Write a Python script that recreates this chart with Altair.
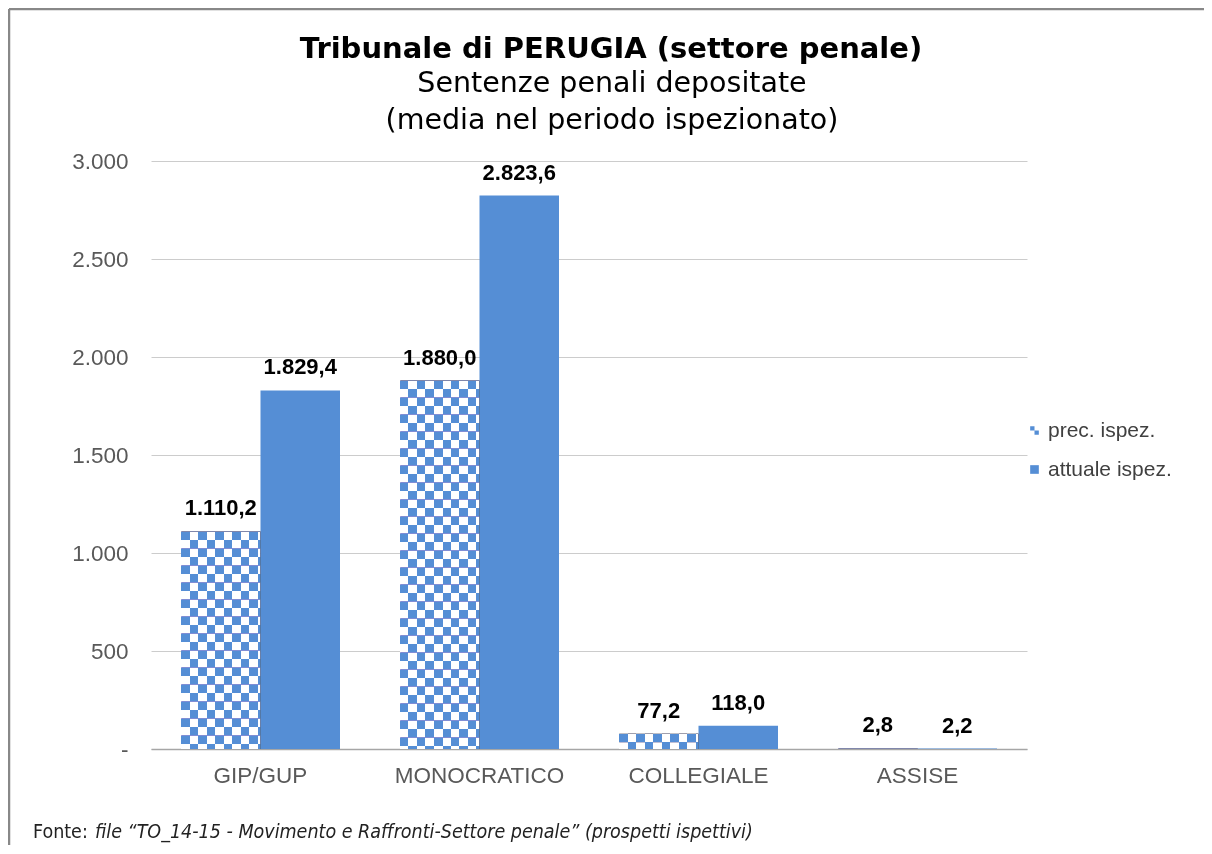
import altair as alt
import pandas as pd

# ---- data ----
categories = ["GIP/GUP", "MONOCRATICO", "COLLEGIALE", "ASSISE"]
series = ["prec. ispez.", "attuale ispez."]
prec_values = [1110.2, 1880.0, 77.2, 2.8]
attuale_values = [1829.4, 2823.6, 118.0, 2.2]
y_ticks = [0, 500, 1000, 1500, 2000, 2500, 3000]

title_text = "Tribunale di PERUGIA (settore penale)"
subtitle_lines = ["Sentenze penali depositate", "(media nel periodo ispezionato)"]
footer_plain = "Fonte:"
footer_italic = "file \u201cTO_14-15 - Movimento e Raffronti-Settore penale\u201d (prospetti ispettivi)"

rows = []
for c, p, a in zip(categories, prec_values, attuale_values):
    rows.append({"cat": c, "serie": series[0], "value": p})
    rows.append({"cat": c, "serie": series[1], "value": a})
df = pd.DataFrame(rows)

# ---- style ----
BLUE = "#558ED5"
W, H = 876, 588
P_IN = 60 / 219
BAR_W = 79.5
CELL = 8.5

# vertical stripes (white / black columns) used as base of checker pattern
stops = []
k = 0
while k * CELL < BAR_W:
    a = k * CELL / BAR_W
    b = min(1.0, (k + 1) * CELL / BAR_W)
    col = "#ffffff" if k % 2 == 0 else "#000000"
    stops.append({"offset": a, "color": col})
    stops.append({"offset": b, "color": col})
    k += 1
stripe_grad = {"gradient": "linear", "x1": 0, "x2": 1, "y1": 0, "y2": 0, "stops": stops}

checker_path = "M-1,-1H0V0H-1Z M0,0H1V1H0Z"

x_enc = alt.X(
    "cat:N", sort=categories,
    scale=alt.Scale(paddingInner=P_IN, paddingOuter=P_IN / 2),
    axis=alt.Axis(title=None, labelAngle=0, ticks=False, domain=True,
                  domainColor="#a6a6a6", domainWidth=1.5, grid=False,
                  labelFont="Liberation Sans", labelFontSize=22.5,
                  labelColor="#595959", labelPadding=15),
)
xo_enc = alt.XOffset("serie:N", sort=series,
                     scale=alt.Scale(paddingInner=0, paddingOuter=0))
y_enc = alt.Y(
    "value:Q", scale=alt.Scale(domain=[0, 3000], nice=False),
    axis=alt.Axis(title=None, values=y_ticks, domain=False, ticks=False,
                  tickSize=0, labelPadding=23, grid=True, gridColor="#cccccc",
                  gridWidth=1, labelFont="Liberation Sans", labelFontSize=22.5,
                  labelColor="#595959",
                  labelExpr="datum.value == 0 ? '-' : replace(format(datum.value, ','), ',', '.')"),
)

base = alt.Chart(df).encode(x=x_enc, xOffset=xo_enc, y=y_enc)

is_prec = alt.datum.serie == series[0]
is_att = alt.datum.serie == series[1]

att_bars = base.transform_filter(is_att).mark_bar(fill=BLUE)

prec_base = base.transform_filter(is_prec).mark_bar(fill=stripe_grad)
prec_rows = base.transform_filter(is_prec).mark_rule(
    stroke="white", strokeWidth=BAR_W - 0.5, strokeDash=[CELL, CELL],
    strokeCap="butt", blend="difference"
).encode(y2=alt.datum(0))
prec_color = base.transform_filter(is_prec).mark_bar(fill=BLUE, blend="lighten")

labels = base.transform_calculate(
    label="replace(replace(replace(format(datum.value, ',.1f'), ',', '_'), '.', ','), '_', '.')"
).mark_text(
    font="Liberation Sans", fontSize=22, fontWeight="bold", color="#000000",
    baseline="bottom", dy=-11
).encode(text="label:N")

# legend only: points placed outside the clipped plot area
legend_layer = alt.Chart(df).mark_point(filled=True, clip=True, opacity=1).encode(
    x=alt.value(-2000), y=alt.value(-2000),
    color=alt.Color("serie:N", sort=series,
                    scale=alt.Scale(domain=series, range=[BLUE, BLUE]),
                    legend=alt.Legend(title=None, orient="none", legendX=873, legendY=259,
                                      padding=0, symbolSize=75, symbolStrokeWidth=0,
                                      symbolOpacity=1,
                                      labelFont="Liberation Sans", labelFontSize=21,
                                      labelColor="#404040", rowPadding=17,
                                      symbolOffset=0, labelOffset=3)),
    shape=alt.Shape("serie:N", sort=series,
                    scale=alt.Scale(domain=series, range=[checker_path, "square"])),
)

one = pd.DataFrame({"k": [0]})


def text_layer(txt, x, y, size, weight="normal", style="normal",
               font="DejaVu Sans", align="center", color="#000000"):
    return alt.Chart(one).mark_text(
        font=font, fontSize=size, fontWeight=weight, fontStyle=style,
        align=align, baseline="middle", color=color
    ).encode(x=alt.value(x), y=alt.value(y), text=alt.value(txt))


title1 = text_layer(title_text, 460, -112, 29, weight="bold")
title2 = text_layer(subtitle_lines[0], 461, -78, 28.5)
title3 = text_layer(subtitle_lines[1], 461, -41, 28.5)

footer1 = text_layer(footer_plain, -118, 671, 19.5, font="DejaVu Sans Condensed",
                     align="left", color="#222222")
footer2 = text_layer(footer_italic, -56, 671, 19.5, style="italic",
                     font="DejaVu Sans Condensed", align="left", color="#222222")

border_top = alt.Chart(one).mark_rule(color="#888888", strokeWidth=2.5).encode(
    x=alt.value(-142), x2=alt.value(1060), y=alt.value(-152))
border_left = alt.Chart(one).mark_rule(color="#888888", strokeWidth=2.5).encode(
    x=alt.value(-142), y=alt.value(-152), y2=alt.value(700))

chart = alt.layer(
    att_bars, prec_base, prec_rows, prec_color, labels, legend_layer,
    title1, title2, title3, footer1, footer2, border_top, border_left
).properties(
    width=W, height=H,
    padding={"left": 143, "top": 153, "right": 177, "bottom": 96},
    autosize=alt.AutoSizeParams(type="none"),
).configure(background="white").configure_view(stroke=None)

chart.save("out.html", embed_options={"renderer": "svg", "actions": False})
